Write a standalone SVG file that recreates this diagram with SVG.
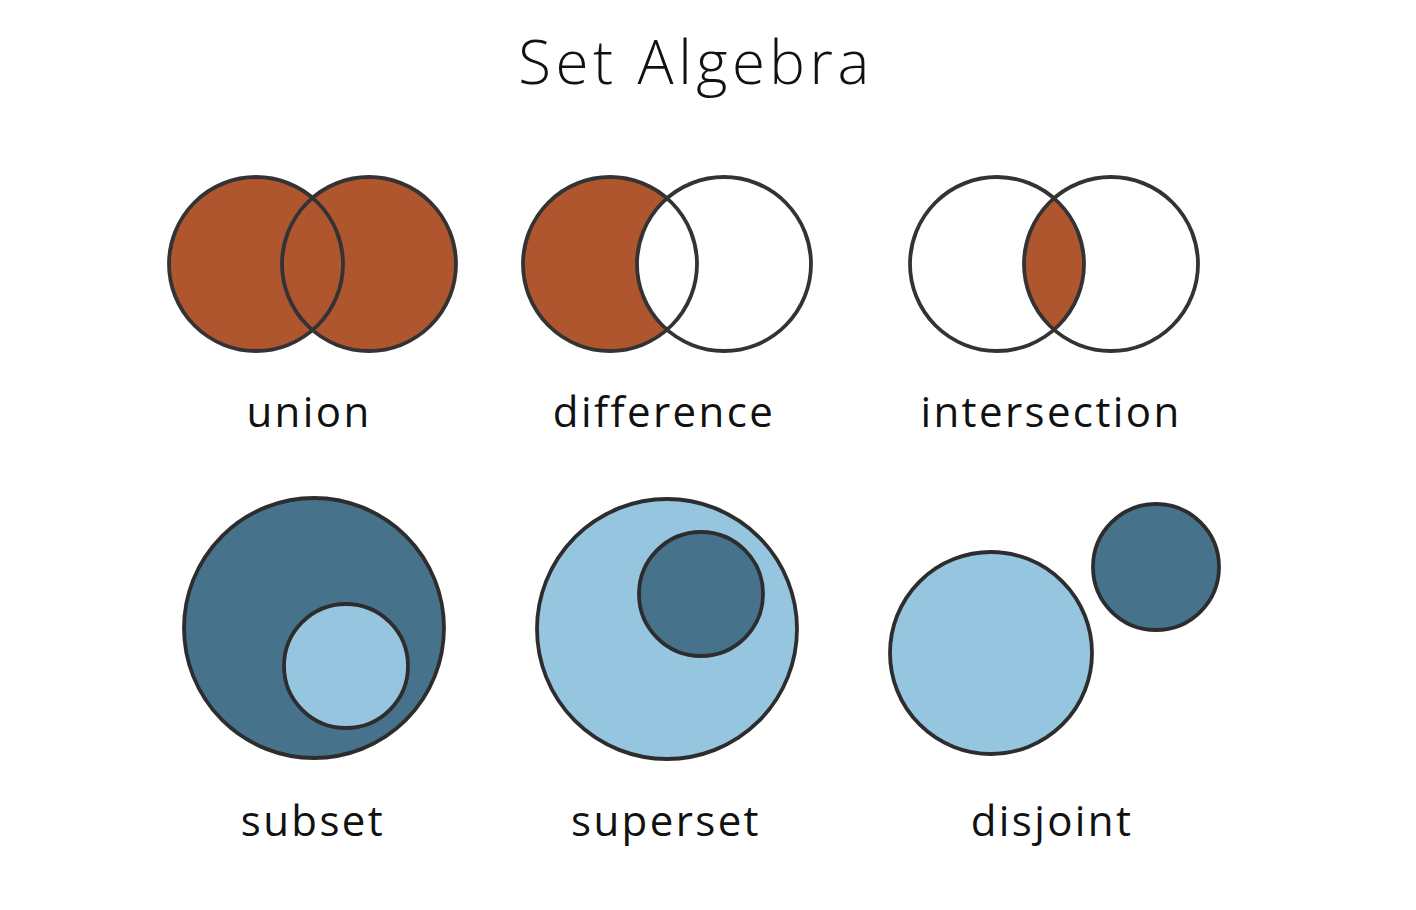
<svg xmlns="http://www.w3.org/2000/svg" width="1416" height="910" viewBox="0 0 1416 910">
<style>
.o{fill:#b0562f}
.e{fill:none;stroke:#333;stroke-width:3.8}
.dk{fill:#47728c;stroke:#2d2d2d;stroke-width:3.8}
.lt{fill:#95c5df;stroke:#2d2d2d;stroke-width:3.8}
.lbl{font-family:"Open Sans","Liberation Sans",sans-serif;font-size:42px;letter-spacing:2.4px;fill:#111;text-anchor:middle}
.ttl{font-family:"Open Sans","Liberation Sans",sans-serif;font-weight:300;font-size:60px;letter-spacing:4.5px;fill:#111;text-anchor:middle}
</style>
<defs>
<clipPath id="cDiffL"><circle cx="610" cy="264" r="87"/></clipPath>
<clipPath id="cInt"><circle cx="997" cy="264" r="87"/></clipPath>
</defs>
<rect width="1416" height="910" fill="#fff"/>
<text class="ttl" x="696" y="84">Set Algebra</text>
<g id="union">
<circle class="o" cx="256" cy="264" r="87"/>
<circle class="o" cx="369" cy="264" r="87"/>
<circle class="e" cx="256" cy="264" r="87"/>
<circle class="e" cx="369" cy="264" r="87"/>
<text class="lbl" x="309" y="427">union</text>
</g>
<g id="difference">
<circle class="o" cx="610" cy="264" r="87"/>
<circle fill="#fff" cx="724" cy="264" r="87" clip-path="url(#cDiffL)"/>
<circle class="e" cx="610" cy="264" r="87"/>
<circle class="e" cx="724" cy="264" r="87"/>
<text class="lbl" x="664" y="427">difference</text>
</g>
<g id="intersection">
<circle class="o" cx="1111" cy="264" r="87" clip-path="url(#cInt)"/>
<circle class="e" cx="997" cy="264" r="87"/>
<circle class="e" cx="1111" cy="264" r="87"/>
<text class="lbl" x="1051" y="427">intersection</text>
</g>
<g id="subset">
<circle class="dk" cx="314" cy="628" r="130"/>
<circle class="lt" cx="346" cy="666" r="62"/>
<text class="lbl" x="313" y="836">subset</text>
</g>
<g id="superset">
<circle class="lt" cx="667" cy="629" r="130"/>
<circle class="dk" cx="701" cy="594" r="62"/>
<text class="lbl" x="666" y="836">superset</text>
</g>
<g id="disjoint">
<circle class="lt" cx="991" cy="653" r="101"/>
<circle class="dk" cx="1156" cy="567" r="63"/>
<text class="lbl" x="1052" y="836">disjoint</text>
</g>
</svg>
